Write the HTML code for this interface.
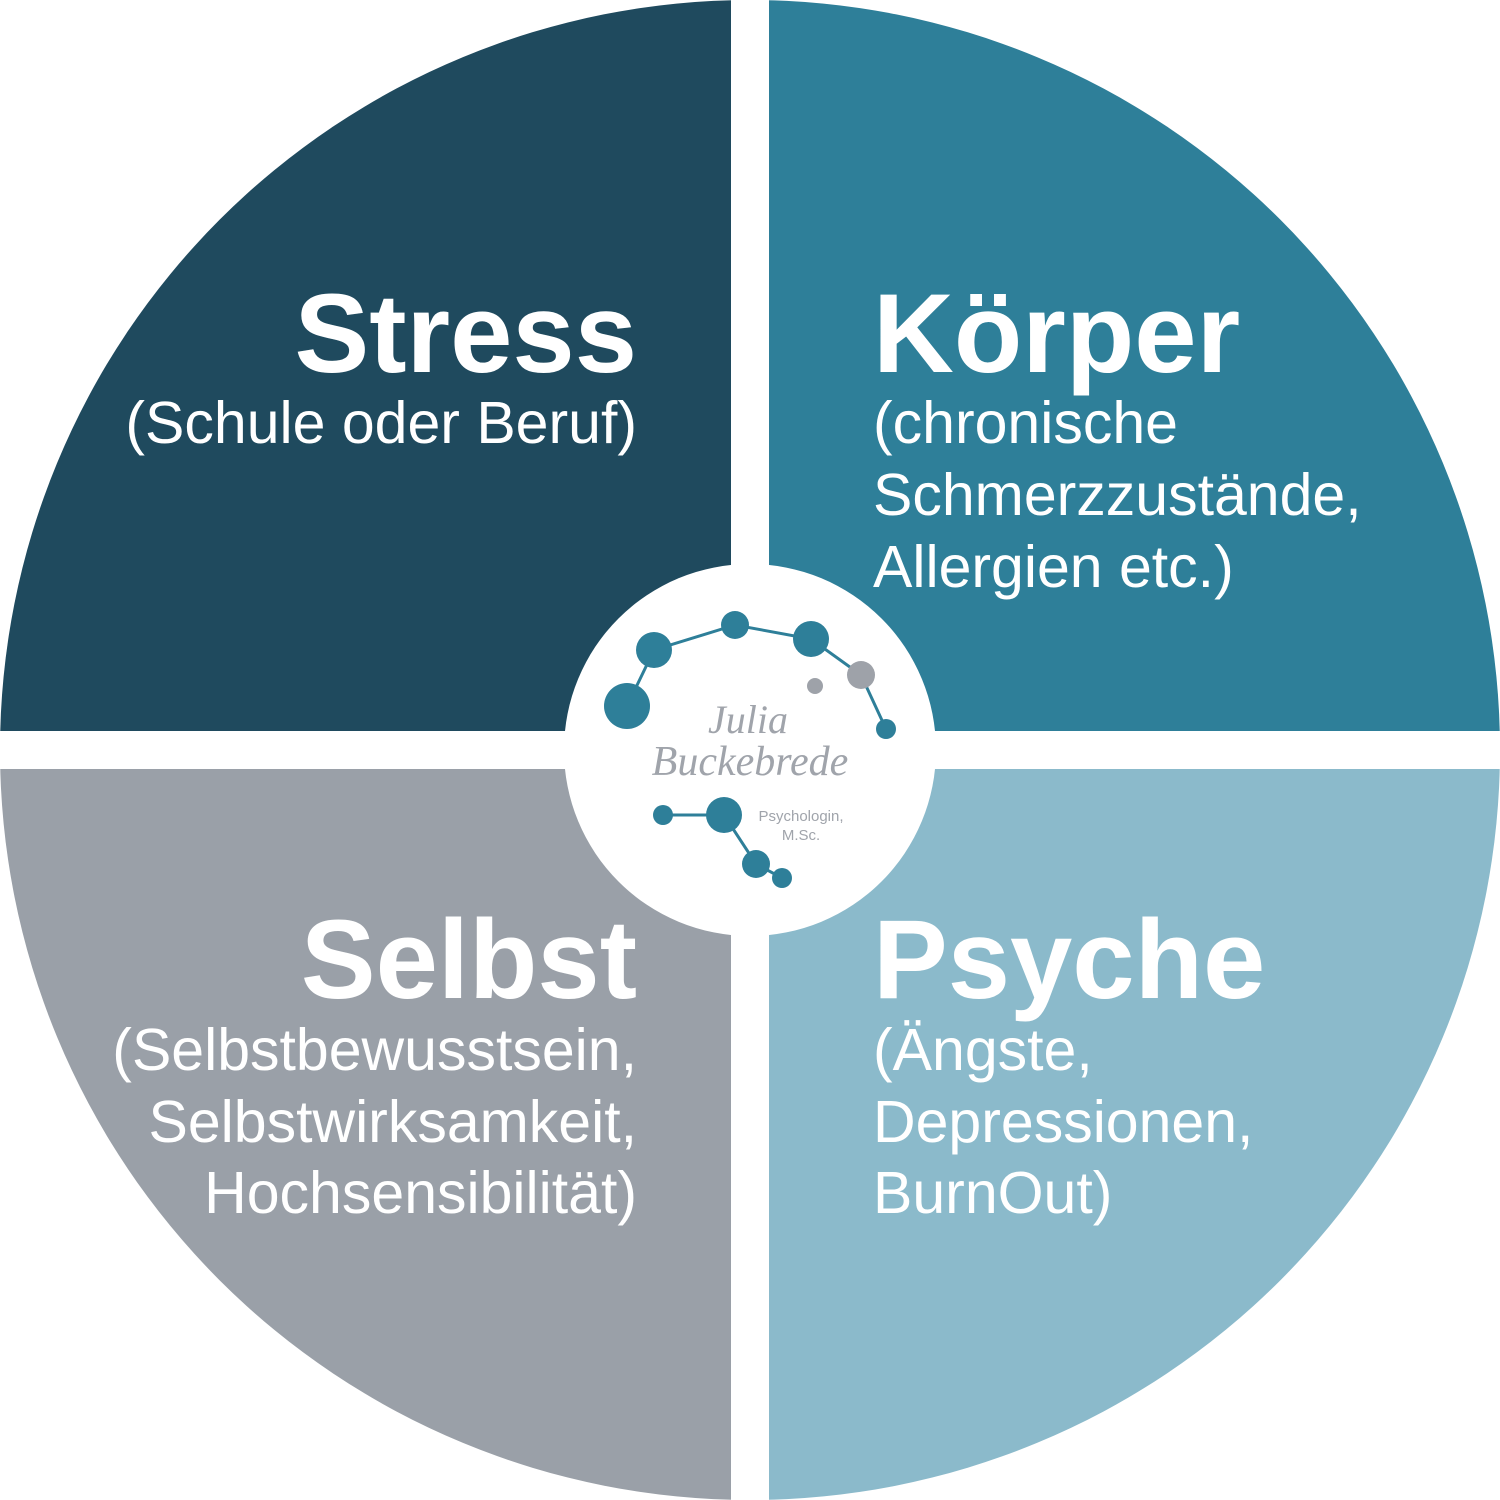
<!DOCTYPE html>
<html><head><meta charset="utf-8"><style>
html,body{margin:0;padding:0;background:#fff;}
svg{display:block;}
.h{font-family:"Liberation Sans",sans-serif;font-weight:bold;font-size:112px;fill:#fff;}
.s{font-family:"Liberation Sans",sans-serif;font-size:59px;fill:#fff;}
</style></head><body>
<svg width="1500" height="1500" viewBox="0 0 1500 1500" xmlns="http://www.w3.org/2000/svg">
<defs><clipPath id="c"><circle cx="750" cy="750" r="750"/></clipPath></defs>
<g clip-path="url(#c)">
<rect x="0" y="0" width="731" height="731" fill="#1f4a5e"/>
<rect x="769" y="0" width="731" height="731" fill="#2e7f99"/>
<rect x="0" y="769" width="731" height="731" fill="#9aa0a8"/>
<rect x="769" y="769" width="731" height="731" fill="#8bbacb"/>
</g>
<circle cx="750" cy="750" r="186" fill="#fff"/>
<g stroke="#2e7f99" stroke-width="3" fill="none">
<polyline points="627,706 654,650 735,625 811,639 861,675 886,729"/>
<polyline points="663,815 724,815 756,864 782,878"/>
</g>
<g fill="#2e7f99">
<circle cx="627" cy="706" r="23"/><circle cx="654" cy="650" r="18"/><circle cx="735" cy="625" r="14"/>
<circle cx="811" cy="639" r="18"/><circle cx="886" cy="729" r="10"/>
<circle cx="663" cy="815" r="10"/><circle cx="724" cy="815" r="18"/><circle cx="756" cy="864" r="14"/><circle cx="782" cy="878" r="10"/>
</g>
<circle cx="861" cy="675" r="14" fill="#9ea2a9"/><circle cx="815" cy="686" r="8" fill="#9ea2a9"/>
<g font-family="'Liberation Serif',serif" font-style="italic" fill="#a0a4ab" text-anchor="middle">
<text x="748" y="733" font-size="40">Julia</text>
<text x="750" y="775" font-size="42">Buckebrede</text>
</g>
<g font-family="'Liberation Sans',sans-serif" font-size="15" fill="#a0a4ab" text-anchor="middle">
<text x="801" y="821">Psychologin,</text><text x="801" y="840">M.Sc.</text>
</g>
<g text-anchor="end">
<text class="h" x="637" y="372">Stress</text>
<text class="s" x="637" y="443">(Schule oder Beruf)</text>
<text class="h" x="637" y="998">Selbst</text>
<text class="s" x="637" y="1070">(Selbstbewusstsein,</text>
<text class="s" x="637" y="1142">Selbstwirksamkeit,</text>
<text class="s" x="637" y="1213">Hochsensibilität)</text>
</g>
<g>
<text class="h" x="873" y="372">Körper</text>
<text class="s" x="873" y="443">(chronische</text>
<text class="s" x="873" y="515">Schmerzzustände,</text>
<text class="s" x="873" y="587">Allergien etc.)</text>
<text class="h" x="873" y="998">Psyche</text>
<text class="s" x="873" y="1070">(Ängste,</text>
<text class="s" x="873" y="1142">Depressionen,</text>
<text class="s" x="873" y="1213">BurnOut)</text>
</g>
</svg>
</body></html>
